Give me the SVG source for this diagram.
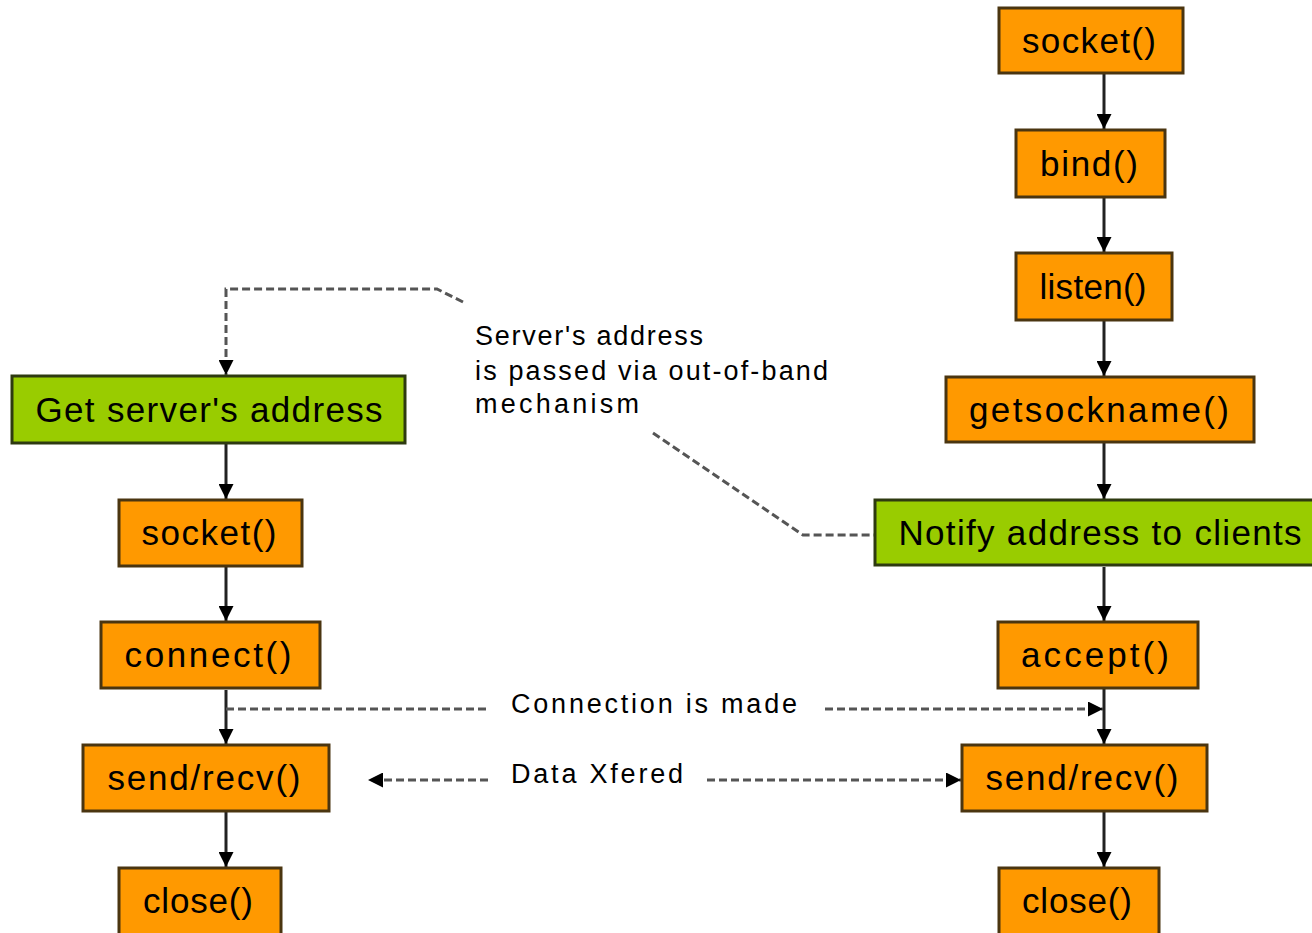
<svg xmlns="http://www.w3.org/2000/svg" width="1312" height="933" viewBox="0 0 1312 933">
<defs>
<marker id="ah" viewBox="0 0 10 10" refX="10" refY="5" markerWidth="5" markerHeight="5" markerUnits="strokeWidth" orient="auto">
<path d="M0,0 L10,5 L0,10 Z" fill="#000"/>
</marker>
<marker id="ahs" viewBox="0 0 10 10" refX="10" refY="5" markerWidth="5" markerHeight="5" markerUnits="strokeWidth" orient="auto">
<path d="M0,0 L10,5 L0,10 Z" fill="#000"/>
</marker>
</defs>
<style>
.o{fill:#FF9900;stroke:#4a3510;stroke-width:3}
.g{fill:#99CC00;stroke:#2e3a10;stroke-width:3}
.t{font-family:"Liberation Sans",Arial,sans-serif;font-size:35px;fill:#000;text-anchor:middle}
.l{font-family:"Liberation Sans",Arial,sans-serif;font-size:27px;fill:#000}
.a{fill:none;stroke:#222;stroke-width:3;marker-end:url(#ah)}
.d{fill:none;stroke:#555;stroke-width:3;stroke-dasharray:8 4}
.dm{fill:none;stroke:#555;stroke-width:3;stroke-dasharray:8 4;marker-end:url(#ahs)}
</style>
<rect width="1312" height="933" fill="#fff"/>
<g id="connectors">
<line class="a" x1="1104" y1="74" x2="1104" y2="129"/>
<line class="a" x1="1104" y1="198" x2="1104" y2="252"/>
<line class="a" x1="1104" y1="321" x2="1104" y2="376"/>
<line class="a" x1="1104" y1="443" x2="1104" y2="499"/>
<line class="a" x1="1104" y1="567" x2="1104" y2="621"/>
<line class="a" x1="1104" y1="689" x2="1104" y2="744"/>
<line class="a" x1="1104" y1="812" x2="1104" y2="867"/>
<line class="a" x1="226" y1="444" x2="226" y2="499"/>
<line class="a" x1="226" y1="567" x2="226" y2="621"/>
<line class="a" x1="226" y1="690" x2="226" y2="744"/>
<line class="a" x1="226" y1="812" x2="226" y2="867"/>
<path class="dm" d="M463,302 L437,289 L226,289 L226,375"/>
<path class="d" d="M653,433 L803,535 L874,535"/>
<line class="d" x1="226" y1="709" x2="488" y2="709"/>
<line class="dm" x1="825" y1="709" x2="1103" y2="709"/>
<line class="dm" x1="488" y1="780" x2="368" y2="780"/>
<line class="dm" x1="707" y1="780" x2="961" y2="780"/>
</g>
<g id="n-socket-s"><rect class="o" x="999" y="8" width="184" height="65"/><text class="t" x="1089" y="53" textLength="134" lengthAdjust="spacing">socket()</text></g>
<g id="n-bind"><rect class="o" x="1016" y="130" width="149" height="67"/><text class="t" x="1089" y="176" textLength="98" lengthAdjust="spacing">bind()</text></g>
<g id="n-listen"><rect class="o" x="1016" y="253" width="156" height="67"/><text class="t" x="1093" y="299" textLength="107" lengthAdjust="spacing">listen()</text></g>
<g id="n-getsockname"><rect class="o" x="946" y="377" width="308" height="65"/><text class="t" x="1099" y="422" textLength="260" lengthAdjust="spacing">getsockname()</text></g>
<g id="n-notify"><rect class="g" x="875" y="500" width="440" height="65"/><text class="t" x="1100" y="545" textLength="403" lengthAdjust="spacing">Notify address to clients</text></g>
<g id="n-accept"><rect class="o" x="998" y="622" width="200" height="66"/><text class="t" x="1095" y="667" textLength="148" lengthAdjust="spacing">accept()</text></g>
<g id="n-sendrecv-s"><rect class="o" x="962" y="745" width="245" height="66"/><text class="t" x="1082" y="790" textLength="193" lengthAdjust="spacing">send/recv()</text></g>
<g id="n-close-s"><rect class="o" x="999" y="868" width="160" height="80"/><text class="t" x="1077" y="913" textLength="110" lengthAdjust="spacing">close()</text></g>
<g id="n-getaddr"><rect class="g" x="12" y="376" width="393" height="67"/><text class="t" x="209" y="422" textLength="347" lengthAdjust="spacing">Get server's address</text></g>
<g id="n-socket-c"><rect class="o" x="119" y="500" width="183" height="66"/><text class="t" x="209" y="545" textLength="135" lengthAdjust="spacing">socket()</text></g>
<g id="n-connect"><rect class="o" x="101" y="622" width="219" height="66"/><text class="t" x="208" y="667" textLength="167" lengthAdjust="spacing">connect()</text></g>
<g id="n-sendrecv-c"><rect class="o" x="83" y="745" width="246" height="66"/><text class="t" x="204" y="790" textLength="193" lengthAdjust="spacing">send/recv()</text></g>
<g id="n-close-c"><rect class="o" x="119" y="868" width="162" height="80"/><text class="t" x="198" y="913" textLength="110" lengthAdjust="spacing">close()</text></g>
<g id="labels">
<text class="l" x="475" y="345" textLength="228" lengthAdjust="spacing">Server's address</text>
<text class="l" x="475" y="380" textLength="353" lengthAdjust="spacing">is passed via out-of-band</text>
<text class="l" x="475" y="413" textLength="164" lengthAdjust="spacing">mechanism</text>
<text class="l" x="511" y="713" textLength="286" lengthAdjust="spacing">Connection is made</text>
<text class="l" x="511" y="783" textLength="172" lengthAdjust="spacing">Data Xfered</text>
</g>
</svg>
